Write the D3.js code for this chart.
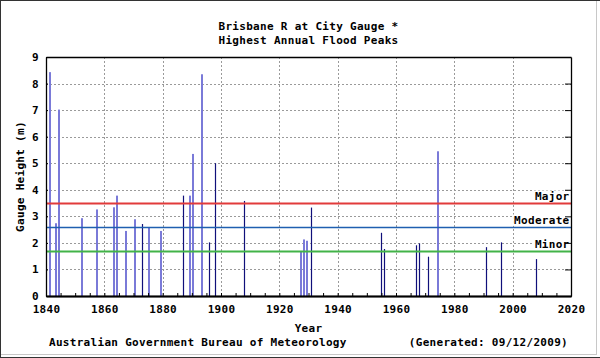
<!DOCTYPE html>
<html>
<head>
<meta charset="utf-8">
<script src="https://cdn.jsdelivr.net/npm/d3@7"></script>
<style>
  html, body { margin: 0; padding: 0; background: #fff; }
  svg { display: block; }
  text { font-family: "DejaVu Sans Mono", "Liberation Mono", monospace; font-weight: bold; font-size: 11px; letter-spacing: 0.3px; fill: #000; }
</style>
</head>
<body>
<script>
// ---- data ----
const years = [1841, 1843, 1844, 1852, 1857, 1863, 1864, 1867, 1870, 1873, 1875, 1879,
               1887, 1889, 1890, 1893, 1896, 1898, 1908, 1927, 1928, 1929, 1931,
               1955, 1956, 1967, 1968, 1971, 1974, 1991, 1996, 2008];
const peaks = [8.43, 2.74, 7.02, 2.93, 3.26, 3.34, 3.78, 2.45, 2.89, 2.71, 2.58, 2.45,
               3.78, 3.78, 5.35, 8.35, 2.02, 5.00, 3.58, 1.69, 2.13, 2.08, 3.33,
               2.38, 1.77, 1.91, 1.98, 1.48, 5.45, 1.84, 2.02, 1.39];
// 1 = drawn as the lighter (wide) bar, 0 = dark bar
const lightBar = [1, 1, 1, 1, 1, 1, 1, 1, 1, 0, 1, 1,
                  0, 1, 1, 1, 0, 0, 0, 1, 1, 1, 0,
                  0, 0, 0, 0, 0, 1, 0, 0, 0];
const thresholdNames = ["Major", "Moderate", "Minor"];
const thresholdLevels = [3.5, 2.6, 1.7];
const thresholdColors = ["#e23b3b", "#1f5fb0", "#42b348"];
const xTicks = [1840, 1860, 1880, 1900, 1920, 1940, 1960, 1980, 2000, 2020];
const xMinorTicks = d3.range(1845, 2020, 5).filter(v => v % 20 !== 0);
const yTicks = [0, 1, 2, 3, 4, 5, 6, 7, 8, 9];
const titleLines = ["Brisbane R at City Gauge *", "Highest Annual Flood Peaks"];

// ---- layout ----
const W = 600, H = 358;
const L = 46, R = 571, T = 57, B = 296;

const svg = d3.select("body").append("svg").attr("width", W).attr("height", H);
svg.append("rect").attr("width", W).attr("height", H).attr("fill", "#fff");

// window frame
svg.append("line").attr("x1", 0.5).attr("x2", 0.5).attr("y1", 0).attr("y2", H).attr("stroke", "#333");
svg.append("line").attr("x1", 0).attr("x2", W).attr("y1", 0.5).attr("y2", 0.5).attr("stroke", "#333");
svg.append("line").attr("x1", 0).attr("x2", W).attr("y1", 357.5).attr("y2", 357.5).attr("stroke", "#333");
svg.append("line").attr("x1", 596.5).attr("x2", 596.5).attr("y1", 1).attr("y2", 355).attr("stroke", "#c8c8c8");
svg.append("line").attr("x1", 1).attr("x2", 597).attr("y1", 354.5).attr("y2", 354.5).attr("stroke", "#c8c8c8");

const x = d3.scaleLinear().domain([1840, 2020]).range([L, R]);
const y = d3.scaleLinear().domain([0, 9]).range([B, T]);

// grid
const grid = svg.append("g").attr("stroke", "#9a9a9a").attr("stroke-dasharray", "2,2").attr("stroke-width", 1);
grid.selectAll("line.v").data(xTicks.slice(1, -1)).join("line")
  .attr("x1", d => Math.round(x(d)) + 0.5).attr("x2", d => Math.round(x(d)) + 0.5)
  .attr("y1", T).attr("y2", B);
grid.selectAll("line.h").data(yTicks.slice(1, -1)).join("line")
  .attr("y1", d => Math.round(y(d)) + 0.5).attr("y2", d => Math.round(y(d)) + 0.5)
  .attr("x1", L).attr("x2", R);

// bars
const bars = years.map((yr, i) => ({ yr, v: peaks[i], light: lightBar[i] }));
svg.append("g").selectAll("rect").data(bars.filter(d => d.light)).join("rect")
  .attr("x", d => Math.round(x(d.yr))).attr("width", 2)
  .attr("y", d => y(d.v)).attr("height", d => B - y(d.v))
  .attr("fill", "#7a7ad8");
svg.append("g").selectAll("line").data(bars.filter(d => !d.light)).join("line")
  .attr("x1", d => Math.round(x(d.yr)) + 0.5).attr("x2", d => Math.round(x(d.yr)) + 0.5)
  .attr("y1", d => y(d.v)).attr("y2", B)
  .attr("stroke", "#10107a").attr("stroke-width", 1.2);

// thresholds
thresholdLevels.forEach((lv, i) => {
  const yy = Math.round(y(lv)) + 0.5;
  svg.append("line").attr("x1", L).attr("x2", R).attr("y1", yy).attr("y2", yy)
    .attr("stroke", thresholdColors[i]).attr("stroke-width", i === 1 ? 1.3 : 1.8);
  const g = svg.append("g");
  const t = g.append("text").attr("x", R - 1.5).attr("y", yy - 3.5)
    .attr("text-anchor", "end").text(thresholdNames[i]);
  const bb = t.node().getBBox();
  g.insert("rect", "text").attr("x", bb.x - 1).attr("y", yy - 13).attr("width", R - bb.x + 1).attr("height", 11.5)
    .attr("fill", "#fff");
});

// axes
const fmt = d3.format("d");
const axB = svg.append("g").attr("transform", `translate(0,${B})`)
  .call(d3.axisBottom(x).tickValues(xTicks).tickFormat(fmt).tickSize(0).tickPadding(17));
axB.selectAll("text").attr("dy", 0);
svg.append("g").attr("transform", `translate(0,${B})`)
  .call(d3.axisBottom(x).tickValues(xMinorTicks).tickFormat("").tickSizeInner(-3).tickSizeOuter(0));
svg.append("g").attr("transform", `translate(0,${B})`)
  .call(d3.axisBottom(x).tickValues(xTicks.slice(1, -1)).tickFormat("").tickSizeInner(-3).tickSizeOuter(0));
svg.append("g").attr("transform", `translate(${L},0)`)
  .call(d3.axisLeft(y).tickValues(yTicks).tickFormat(fmt).tickSizeInner(-2).tickSizeOuter(0).tickPadding(7));
svg.append("g").attr("transform", `translate(${R},0)`)
  .call(d3.axisRight(y).tickValues(yTicks).tickFormat("").tickSizeInner(-6).tickSizeOuter(0));
svg.append("g").attr("transform", `translate(0,${T})`)
  .call(d3.axisTop(x).tickValues([]).tickSizeOuter(0));

svg.selectAll(".domain").attr("stroke", "#000").attr("stroke-width", 1.3);
svg.selectAll(".tick line").attr("stroke", "#000");
svg.selectAll(".tick text").style("font-family", '"DejaVu Sans Mono", monospace')
  .style("font-weight", "bold").style("font-size", "11px").style("letter-spacing", "0.3px").attr("fill", "#000");

// texts
const cx = (L + R) / 2;
svg.append("text").attr("x", cx).attr("y", 30).attr("text-anchor", "middle").text(titleLines[0]);
svg.append("text").attr("x", cx).attr("y", 43.5).attr("text-anchor", "middle").text(titleLines[1]);
svg.append("text").attr("x", cx).attr("y", 332).attr("text-anchor", "middle").text("Year");
svg.append("text").attr("transform", `translate(24,${(T + B) / 2}) rotate(-90)`).attr("text-anchor", "middle").text("Gauge Height (m)");
svg.append("text").attr("x", 49).attr("y", 345.5).text("Australian Government Bureau of Meteorology");
svg.append("text").attr("x", 568).attr("y", 345.5).attr("text-anchor", "end").text("(Generated: 09/12/2009)");
</script>
</body>
</html>
